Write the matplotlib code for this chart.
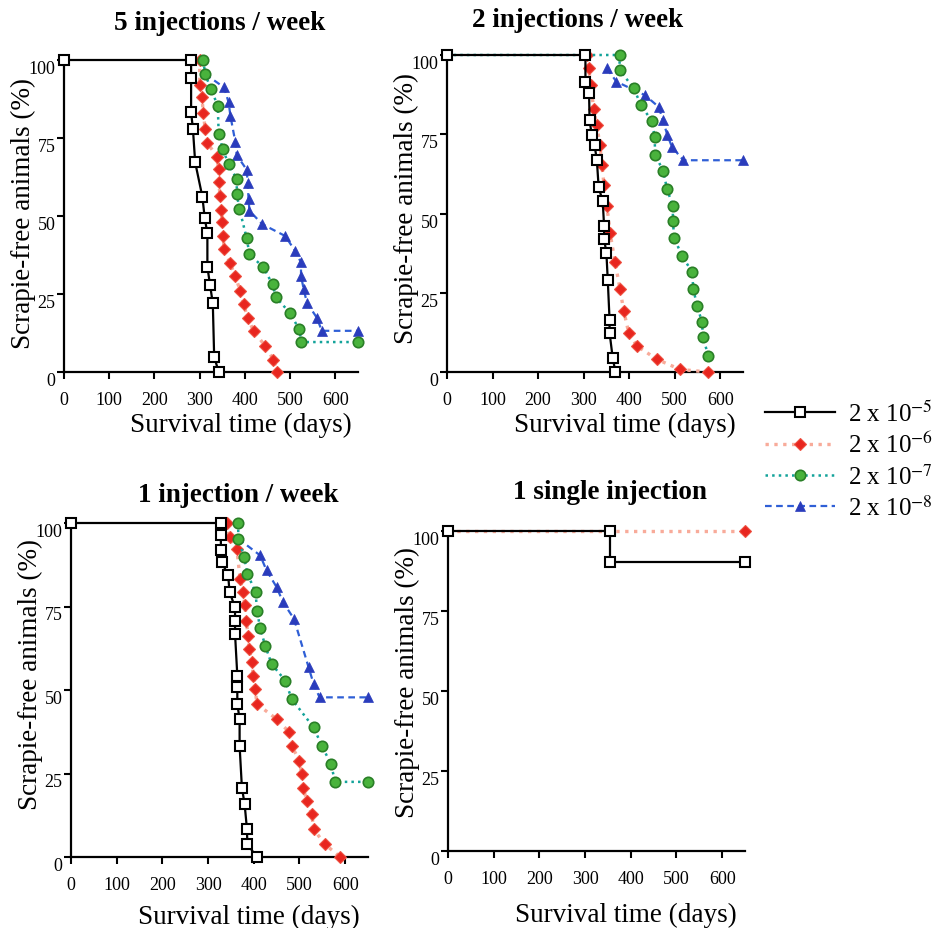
import matplotlib.pyplot as plt

plt.rcParams['font.family'] = ['Liberation Serif', 'DejaVu Serif']
plt.rcParams['mathtext.fontset'] = 'stix'

# ---- data ----
dose_labels = ['2 x 10$^{-5}$', '2 x 10$^{-6}$', '2 x 10$^{-7}$', '2 x 10$^{-8}$']
panel_titles = ['5 injections / week', '2 injections / week',
                '1 injection / week', '1 single injection']
x_ticks = [0, 100, 200, 300, 400, 500, 600]
y_ticks = [0, 25, 50, 75, 100]

# 5 injections / week
p1_k_days = [0, 281, 281, 281, 285, 290, 306, 311, 317, 317, 323, 329, 332, 342]
p1_k_pct = [100, 100, 94.2, 83.2, 78, 67.2, 56.1, 49.5, 44.4, 33.7, 27.8, 22, 4.9, 0]
p1_r_days = [300, 300, 305, 308, 312, 317, 338, 342, 342, 345, 348, 350, 352, 354,
             367, 378, 390, 397, 406, 419, 445, 463, 471]
p1_r_pct = [100, 92, 88, 83, 78, 73.5, 69, 65, 61, 56.5, 52, 48, 43.6, 39.4,
            35, 30.8, 26, 21.7, 17.4, 13.2, 8.3, 4, 0]
p1_g_days = [308, 312, 325, 340, 342, 351, 364, 382, 382, 388, 404, 410, 441, 461,
             469, 499, 520, 525, 650]
p1_g_pct = [100, 95.5, 90.7, 85.3, 76.3, 71.4, 66.6, 61.8, 57, 52.2, 42.8, 37.8, 33.5,
            28.1, 23.9, 19, 13.7, 9.6, 9.6]
p1_b_days = [312, 354, 364, 368, 379, 382, 404, 406, 408, 410, 438, 489, 511, 524,
             524, 530, 537, 559, 570, 650]
p1_b_pct = [95.5, 91.2, 86.4, 82, 73.6, 69.5, 64.8, 60.7, 55.4, 51.7, 47.4, 43.6,
            38.8, 35.1, 30.8, 26.5, 22.2, 17.4, 13.2, 13.2]

# 2 injections / week
p2_k_days = [0, 304, 304, 312, 313, 318, 324, 329, 333, 342, 345, 345, 350, 353,
             357, 357, 364, 370]
p2_k_pct = [100, 100, 91.6, 87.9, 79.4, 74.7, 71.5, 67, 58.3, 53.8, 45.9, 42, 37.6,
            29.1, 16.4, 12.4, 4.3, 0]
p2_r_days = [307, 311, 316, 322, 329, 336, 340, 345, 351, 358, 369, 380, 388, 399,
             417, 461, 512, 574]
p2_r_pct = [100, 95.8, 90.5, 83, 77.8, 71.5, 65.2, 58.9, 52.5, 44, 34.6, 26.2, 19.3,
            12.4, 8.2, 4, 0.8, 0]
p2_g_days = [0, 379, 379, 410, 426, 450, 456, 457, 475, 483, 496, 496, 499, 516, 538,
             541, 549, 560, 562, 574]
p2_g_pct = [100, 100, 95.3, 89.5, 84.2, 79.1, 74.2, 68.6, 63.3, 57.8, 52.3, 47.5, 42.2,
            36.7, 31.6, 26.2, 20.9, 15.8, 10.9, 5.1]
p2_b_days = [351, 372, 435, 465, 474, 484, 494, 519, 650]
p2_b_pct = [95.8, 91.6, 87.3, 83.6, 79.4, 74.7, 71, 66.8, 66.8]

# 1 injection / week
p3_k_days = [0, 328, 328, 328, 330, 344, 347, 359, 359, 359, 364, 364, 364, 369, 369,
             374, 380, 385, 386, 407]
p3_k_pct = [100, 100, 96.3, 91.8, 88.3, 84.3, 79.3, 74.8, 70.8, 66.8, 54.3, 50.8, 45.8,
            41.3, 33.3, 20.8, 15.8, 8.5, 3.8, 0]
p3_r_days = [341, 347, 363, 370, 376, 381, 383, 388, 390, 396, 399, 403, 407, 450, 478,
             483, 500, 505, 507, 517, 527, 531, 556, 589]
p3_r_pct = [100, 95.8, 92.3, 83.3, 79.3, 75.3, 70.8, 66.3, 62.3, 58.3, 54.3, 50.3, 45.8,
            41.3, 37.3, 33.3, 28.8, 24.8, 20.8, 16.8, 12.8, 8.3, 3.8, 0]
p3_g_days = [366, 366, 379, 386, 404, 407, 414, 425, 439, 469, 483, 531, 549, 569, 578, 650]
p3_g_pct = [100, 95.3, 89.8, 84.8, 79.3, 73.8, 68.5, 63.3, 57.8, 52.8, 47.3, 38.8, 33.3,
            27.8, 22.5, 22.5]
p3_b_days = [366, 414, 428, 450, 464, 488, 520, 531, 544, 650]
p3_b_pct = [95.3, 90.3, 85.8, 80.8, 76.3, 71.3, 56.8, 51.8, 47.8, 47.8]

# 1 single injection
p4_k_days = [0, 355, 355, 650]
p4_k_pct = [100, 100, 90.3, 90.3]
p4_r_days = [0, 355, 650]
p4_r_pct = [100, 100, 100]

panels = [
    [(p1_k_days, p1_k_pct), (p1_r_days, p1_r_pct), (p1_g_days, p1_g_pct), (p1_b_days, p1_b_pct)],
    [(p2_k_days, p2_k_pct), (p2_r_days, p2_r_pct), (p2_g_days, p2_g_pct), (p2_b_days, p2_b_pct)],
    [(p3_k_days, p3_k_pct), (p3_r_days, p3_r_pct), (p3_g_days, p3_g_pct), (p3_b_days, p3_b_pct)],
    [(p4_k_days, p4_k_pct), (p4_r_days, p4_r_pct)],
]
# points that only start the line (hidden marker): (panel, series) -> markevery
mark_skip = {(0, 3): slice(1, None), (1, 2): slice(1, None), (2, 3): slice(1, None),
             (3, 1): [2]}

# ---- styles ----
styles = [
    dict(color='black', ls='-', lw=1.6, marker='s', ms=6.5, mfc='white', mec='black', mew=1.5, zorder=6),
    dict(color='#f8ab9a', ls=':', lw=2.4, marker='D', ms=6.2, mfc='#e8261f', mec='#ee5040', mew=0.8, zorder=4),
    dict(color='#13a39a', ls=':', lw=1.8, marker='o', ms=7.5, mfc='#49b33c', mec='#2a7f27', mew=1.2, zorder=5),
    dict(color='#2f5fd6', ls=(0, (3, 2)), lw=1.6, marker='^', ms=7.5, mfc='#2a3cbc', mec='#2a3cbc', mew=0.5, zorder=3),
]

W, H = 941, 929
# axes rectangles in pixels: left, top, right, bottom (x = 0..650 days, y = 0..100 %)
ax_px = [(64, 61, 358, 373), (447, 56, 743, 373), (71, 524, 368, 858), (448, 532, 745, 852)]
title_px = [(220, 30), (578, 27), (238, 502), (610, 499)]
xlab_x = [0.6, 0.6, 0.6, 0.6]
xlab_gap = [40, 40, 47, 51]
ylab_y = [0.51, 0.52, 0.55, 0.53]

fig = plt.figure(figsize=(W / 100, H / 100), dpi=100)
handles = []
for i, series in enumerate(panels):
    l, t, r, b = ax_px[i]
    ax = fig.add_axes([l / W, 1 - b / H, (r - l) / W, (b - t) / H])
    for j, (d, p) in enumerate(series):
        st = dict(styles[j])
        me = mark_skip.get((i, j), None)
        line, = ax.plot(d, p, markevery=me, clip_on=False, **st)
        if i == 0:
            handles.append(line)
    ax.set_xlim(0, 650)
    ax.set_ylim(0, 100)
    ax.set_xticks(x_ticks)
    ax.set_yticks(y_ticks)
    for s in ['top', 'right']:
        ax.spines[s].set_visible(False)
    for s in ['left', 'bottom']:
        ax.spines[s].set_linewidth(1.6)
    ax.tick_params(axis='x', direction='out', length=5, width=1.5, labelsize=13, pad=9)
    ax.tick_params(axis='y', direction='out', length=5, width=1.5, labelsize=13, pad=1)
    plt.setp(ax.get_yticklabels(), va='top')
    ax.set_xlabel('Survival time (days)', fontsize=19.5)
    ax.xaxis.set_label_coords(xlab_x[i], -xlab_gap[i] / (b - t))
    ax.set_ylabel('Scrapie-free animals (%)', fontsize=19.5)
    ax.yaxis.set_label_coords(-28 / (r - l), ylab_y[i])
    tx, ty = title_px[i]
    fig.text(tx / W, 1 - ty / H, panel_titles[i], ha='center', va='baseline',
             fontsize=19.5, fontweight='bold')

fig.legend(handles, dose_labels, loc='center left', bbox_to_anchor=(765 / W, 1 - 461 / H),
           frameon=False, fontsize=18, handlelength=2.8, handletextpad=0.5,
           labelspacing=0.25, borderpad=0, borderaxespad=0)

fig.savefig('out.png', dpi=100)
